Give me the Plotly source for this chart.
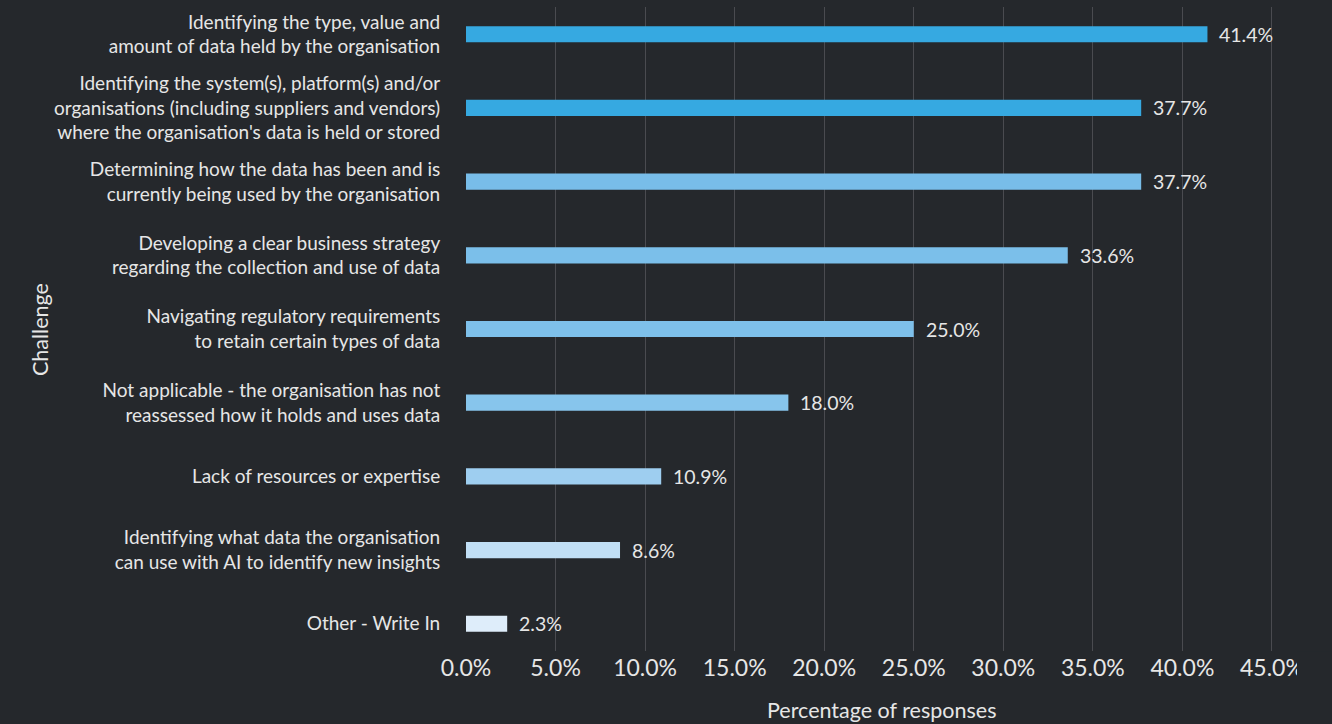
import plotly.graph_objects as go

# Survey results: challenges faced when reassessing how data is held and used
challenges = [
    "Identifying the type, value and<br>amount of data held by the organisation",
    "Identifying the system(s), platform(s) and/or<br>organisations (including suppliers and vendors)<br>where the organisation's data is held or stored",
    "Determining how the data has been and is<br>currently being used by the organisation",
    "Developing a clear business strategy<br>regarding the collection and use of data",
    "Navigating regulatory requirements<br>to retain certain types of data",
    "Not applicable - the organisation has not<br>reassessed how it holds and uses data",
    "Lack of resources or expertise",
    "Identifying what data the organisation<br>can use with AI to identify new insights",
    "Other - Write In",
]
pct_responses = [41.4, 37.7, 37.7, 33.6, 25.0, 18.0, 10.9, 8.6, 2.3]
bar_colors = [
    "#36a9e1", "#36a9e1", "#78bde9", "#7bbfea", "#7ec0ea",
    "#87c5ec", "#9ecef0", "#c1dff5", "#deedfa",
]
x_ticks = [0, 5, 10, 15, 20, 25, 30, 35, 40, 45]

BG = "#25282c"
TEXT = "#e6e6e6"
FONT = "Lato"

W, H = 1332, 724
ML, MR, MT, MB = 466, 35, 7, 73
plot_w = W - ML - MR

fig = go.Figure(
    go.Bar(
        x=pct_responses,
        y=challenges,
        orientation="h",
        width=0.22,
        marker=dict(color=bar_colors, line=dict(width=0)),
        hoverinfo="skip",
    )
)

# value labels at the end of each bar
for c, v in zip(challenges, pct_responses):
    fig.add_annotation(
        x=v, y=c, xref="x", yref="y",
        text=f"{v:.1f}%", showarrow=False,
        xanchor="left", xshift=10,
        font=dict(family=FONT, size=19.5, color=TEXT),
    )

# axis titles
fig.add_annotation(
    xref="paper", yref="paper",
    x=(40 - ML) / plot_w, y=(H - MB - 330) / (H - MT - MB),
    text="Challenge", textangle=-90, showarrow=False,
    xanchor="center", yanchor="middle",
    font=dict(family=FONT, size=21.5, color=TEXT),
)
fig.add_annotation(
    xref="paper", yref="paper",
    x=0.5, y=-(710 - (H - MB)) / (H - MT - MB),
    text="Percentage of responses", showarrow=False,
    xanchor="center", yanchor="middle",
    font=dict(family=FONT, size=21.5, color=TEXT),
)

# the tick labels stop at the plot's right edge
fig.add_shape(
    type="rect", xref="paper", yref="paper",
    x0=1.0, x1=1.2, y0=-0.2, y1=-0.001,
    fillcolor=BG, line=dict(width=0), layer="above",
)

fig.update_layout(
    width=W, height=H,
    margin=dict(l=ML, r=MR, t=MT, b=MB, pad=0),
    paper_bgcolor=BG, plot_bgcolor=BG,
    showlegend=False,
    xaxis=dict(
        range=[0, 46.4],
        tickvals=x_ticks,
        ticktext=[f"{t:.1f}%" for t in x_ticks],
        showgrid=True, gridcolor="#4a4b50", gridwidth=1,
        zeroline=False, showline=False,
        ticks="", ticklabelstandoff=1,
        tickfont=dict(family=FONT, size=23, color=TEXT),
    ),
    yaxis=dict(
        categoryorder="array", categoryarray=challenges,
        range=[8.37, -0.37],
        showgrid=False, zeroline=False, showline=False,
        ticks="outside", ticklen=21, tickcolor=BG,
        tickfont=dict(family=FONT, size=19, color=TEXT),
    ),
)

fig.write_html("out.html")
